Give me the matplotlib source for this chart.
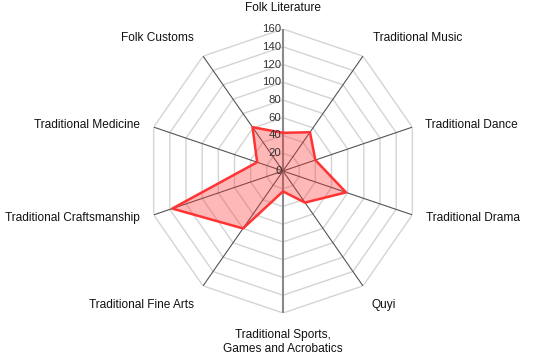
import numpy as np
import matplotlib
matplotlib.use("Agg")
import matplotlib.pyplot as plt

categories = ["Folk Literature", "Traditional Music", "Traditional Dance", "Traditional Drama",
              "Quyi", "Traditional Sports,\nGames and Acrobatics", "Traditional Fine Arts",
              "Traditional Craftsmanship", "Traditional Medicine", "Folk Customs"]
values = [43, 54, 40, 78, 44, 23, 80, 137, 32, 61]
ticks = [0, 20, 40, 60, 80, 100, 120, 140, 160]

plt.rcParams['font.family'] = ['Liberation Sans', 'DejaVu Sans']

W, H = 550, 359
fig = plt.figure(figsize=(W / 100, H / 100), dpi=100)
cx, cy, RX, RY = 283, 171, 136, 142
ax = fig.add_axes([(cx - RX) / W, 1 - (cy + RY) / H, 2 * RX / W, 2 * RY / H], projection='polar')
ax.set_aspect('auto')
ax.set_theta_offset(np.pi / 2)
ax.set_theta_direction(-1)
ax.set_ylim(0, 160)
ax.grid(False)
ax.spines['polar'].set_visible(False)
ax.set_xticks([])
ax.set_yticks([])
ax.patch.set_alpha(0)

n = len(categories)
theta = np.arange(n) * 2 * np.pi / n
theta_c = np.append(theta, theta[0])

# polygon rings
for t in ticks[1:]:
    ax.plot(theta_c, [t] * (n + 1), color='#d4d4d4', lw=1.0, zorder=1)
# spokes
for i, th in enumerate(theta):
    if i in (0, 5):
        ax.plot([th, th], [0, 160], color='#8a8a8a', lw=1.5, zorder=2)
    else:
        ax.plot([th, th], [0, 160], color='#555555', lw=0.8, zorder=2)

vals_c = values + [values[0]]
ax.fill(theta_c, vals_c, color='#ff2a2a', alpha=0.33, lw=0, zorder=3)
ax.plot(theta_c, vals_c, color='#ff3333', lw=1.8, zorder=4)

# radial tick labels
for t in ticks:
    ax.annotate(str(t), xy=(0, t), xytext=(-1, 0), textcoords='offset points',
                ha='right', va='center', fontsize=8.2, color='#333333', zorder=5)

# category labels
offsets = [(0, 21, 'center'), (10, 18, 'left'), (13, 2, 'left'), (14, -3, 'left'),
           (9, -19, 'left'), (0, -29, 'center'), (-9, -19, 'right'), (-14, -3, 'right'),
           (-14, 2, 'right'), (-9, 18, 'right')]
for th, lab, (dx, dy, ha) in zip(theta, categories, offsets):
    ax.annotate(lab, xy=(th, 160), xytext=(dx * 0.72, dy * 0.72), textcoords='offset points',
                ha=ha, va='center', fontsize=8.6, color='#111111', multialignment='center',
                annotation_clip=False)

fig.savefig("out.png", dpi=100)
